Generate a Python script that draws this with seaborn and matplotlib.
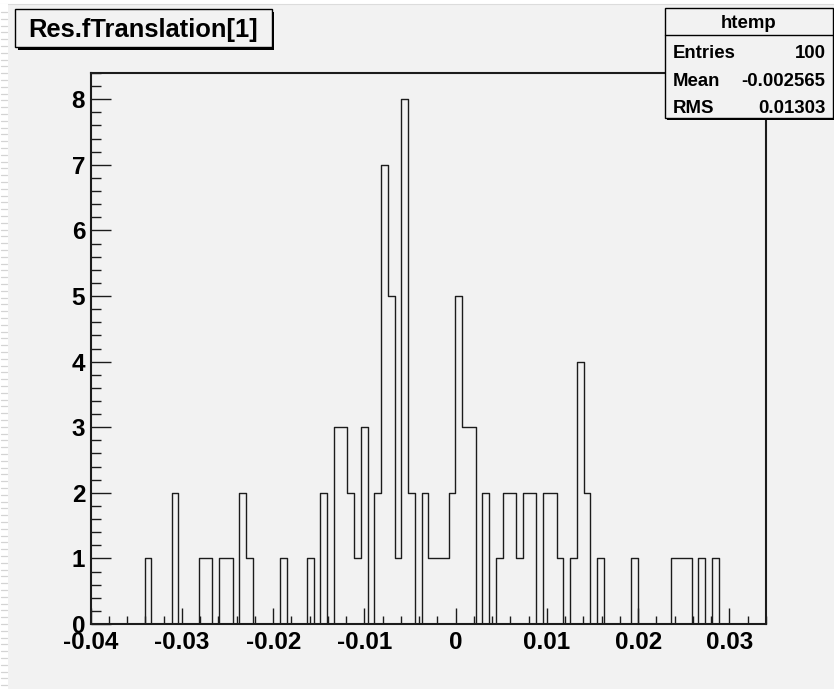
import numpy as np
import pandas as pd
import matplotlib
matplotlib.use("Agg")
import matplotlib.pyplot as plt
from matplotlib.patches import Rectangle
from matplotlib.lines import Line2D
from matplotlib.ticker import FixedLocator, FixedFormatter, MultipleLocator
import seaborn as sns

# ---- histogram contents (100 bins) ----
counts = [
    0, 0, 0, 0, 0, 0, 0, 0, 1, 0,
    0, 0, 2, 0, 0, 0, 1, 1, 0, 1,
    1, 0, 2, 1, 0, 0, 0, 0, 1, 0,
    0, 0, 1, 0, 2, 0, 3, 3, 2, 1,
    3, 0, 2, 7, 5, 1, 8, 2, 0, 2,
    1, 1, 1, 2, 5, 3, 3, 0, 2, 0,
    1, 2, 2, 1, 2, 2, 0, 2, 2, 1,
    0, 1, 4, 2, 0, 1, 0, 0, 0, 0,
    1, 0, 0, 0, 0, 0, 1, 1, 1, 0,
    1, 0, 1, 0, 0, 0, 0, 0, 0, 0,
]
x_lo, x_hi = -0.04, 0.034
n_bins = 100

x_ticks = [-0.04, -0.03, -0.02, -0.01, 0.0, 0.01, 0.02, 0.03]
x_tick_labels = ["-0.04", "-0.03", "-0.02", "-0.01", "0", "0.01", "0.02", "0.03"]
y_ticks = [0, 1, 2, 3, 4, 5, 6, 7, 8]
y_tick_labels = ["0", "1", "2", "3", "4", "5", "6", "7", "8"]

title_text = "Res.fTranslation[1]"
stats_name = "htemp"
stats_labels = ["Entries", "Mean", "RMS"]
stats_values = ["100", "-0.002565", "0.01303"]

# ---- canvas ----
W, H = 834, 689
sns.set_style("ticks")
plt.rcParams["font.family"] = ["Liberation Sans", "DejaVu Sans"]
plt.rcParams["font.weight"] = "bold"

bg = "#f2f2f2"
ink = "#1c1c1c"

fig = plt.figure(figsize=(W / 100, H / 100), dpi=100)
fig.patch.set_facecolor(bg)


def fx(px):
    return px / W


def fy(py):
    return 1 - py / H


# window edge strips
fig.add_artist(Rectangle((0, fy(3.5)), 1, fy(0) - fy(3.5), transform=fig.transFigure,
                         facecolor="white", edgecolor="none", zorder=1))
fig.add_artist(Line2D([0, 1], [fy(3.8), fy(3.8)], transform=fig.transFigure,
                      color="#dcdcdc", lw=0.8, zorder=1))
fig.add_artist(Rectangle((0, 0), fx(7.5), fy(3.5), transform=fig.transFigure,
                         facecolor="white", edgecolor="none", zorder=1))
for yy in np.arange(12, H, 6.8):
    fig.add_artist(Line2D([fx(0.5), fx(6.5)], [fy(yy), fy(yy)], transform=fig.transFigure,
                          color="#d4d4d4", lw=0.9, zorder=1))

# ---- frame ----
ax = fig.add_axes([fx(90.7), fy(624), fx(766) - fx(90.7), fy(73) - fy(624)])
ax.set_facecolor(bg)

edges = np.linspace(x_lo, x_hi, n_bins + 1)
hist_df = pd.DataFrame({
    "value": 0.5 * (edges[:-1] + edges[1:]),
    "count": np.asarray(counts, dtype=float),
})
sns.histplot(data=hist_df, x="value", weights="count", bins=list(edges),
             element="step", fill=False, color=ink, linewidth=1.0, ax=ax)

ax.set_xlim(x_lo, x_hi)
ax.set_ylim(0, 8.4)
ax.set_xlabel("")
ax.set_ylabel("")

for side in ["left", "right", "top", "bottom"]:
    ax.spines[side].set_visible(True)
    ax.spines[side].set_color(ink)
    ax.spines[side].set_linewidth(1.5)

ax.xaxis.set_major_locator(FixedLocator(x_ticks))
ax.xaxis.set_major_formatter(FixedFormatter(x_tick_labels))
ax.xaxis.set_minor_locator(MultipleLocator(0.002))
ax.yaxis.set_major_locator(FixedLocator(y_ticks))
ax.yaxis.set_major_formatter(FixedFormatter(y_tick_labels))
ax.yaxis.set_minor_locator(MultipleLocator(0.2))

ax.tick_params(axis="x", which="major", direction="in", length=11.5, width=1.0,
               color=ink, pad=5.3, labelsize=17.5, labelcolor="black")
ax.tick_params(axis="x", which="minor", direction="in", length=5.5, width=1.0, color=ink)
ax.tick_params(axis="y", which="major", direction="in", length=14.4, width=1.0,
               color=ink, pad=4, labelsize=17.5, labelcolor="black")
ax.tick_params(axis="y", which="minor", direction="in", length=7.2, width=1.0, color=ink)
for lab in ax.get_xticklabels() + ax.get_yticklabels():
    lab.set_fontweight("bold")


# ---- title pave ----
def pave(x0, y0, x1, y1, shadow=2.5):
    fig.add_artist(Rectangle((fx(x0 + shadow), fy(y1 + shadow)), fx(x1) - fx(x0),
                             fy(y0) - fy(y1), transform=fig.transFigure,
                             facecolor="black", edgecolor="none", zorder=5))
    fig.add_artist(Rectangle((fx(x0), fy(y1)), fx(x1) - fx(x0), fy(y0) - fy(y1),
                             transform=fig.transFigure, facecolor=bg,
                             edgecolor="black", linewidth=1.0, zorder=6))


pave(15, 9.3, 271.7, 47.3)
fig.text(fx(143.5), fy(36.7), title_text, ha="center", va="baseline",
         fontsize=18.4, fontweight="bold", color="black", zorder=7)

# ---- statistics box ----
pave(665, 8.3, 832.7, 118.3, shadow=2.0)
fig.add_artist(Line2D([fx(665), fx(832.7)], [fy(35), fy(35)], transform=fig.transFigure,
                      color="black", lw=1.0, zorder=7))
fig.text(fx(749), fy(28.3), stats_name, ha="center", va="baseline",
         fontsize=13.4, fontweight="bold", color="black", zorder=7)
row_baselines = [58.3, 86.0, 112.7]
for lab, val, yb in zip(stats_labels, stats_values, row_baselines):
    fig.text(fx(672.5), fy(yb), lab, ha="left", va="baseline",
             fontsize=13.4, fontweight="bold", color="black", zorder=7)
    fig.text(fx(825.5), fy(yb), val, ha="right", va="baseline",
             fontsize=13.4, fontweight="bold", color="black", zorder=7)

fig.savefig("out.png", dpi=100, facecolor=fig.get_facecolor())
